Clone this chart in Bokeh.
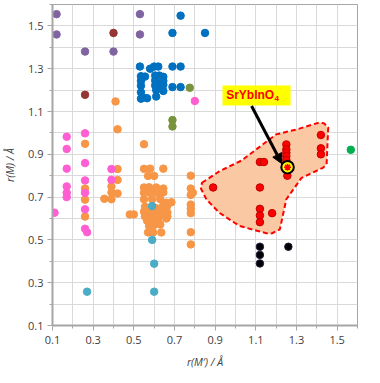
from bokeh.plotting import figure
from bokeh.models import FixedTicker, Arrow, NormalHead
from bokeh.core.properties import value
from bokeh.embed import file_html
from bokeh.resources import INLINE

# ---- data ----
purple_x = [0.12, 0.12, 0.26, 0.40, 0.53, 0.53]
purple_y = [1.555, 1.46, 1.38, 1.38, 1.555, 1.46]

darkred_x = [0.40, 0.26]
darkred_y = [1.467, 1.178]

blue_x = [0.53, 0.58, 0.60, 0.62, 0.69, 0.73,
          0.535, 0.535, 0.535, 0.535, 0.535,
          0.555, 0.545, 0.565,
          0.605, 0.625, 0.645,
          0.605, 0.625, 0.645,
          0.605, 0.625, 0.645,
          0.61, 0.63, 0.645, 0.61,
          0.69, 0.73,
          0.73, 0.69, 0.85]
blue_y = [1.31, 1.30, 1.31, 1.31, 1.31, 1.31,
          1.265, 1.243, 1.22, 1.19, 1.16,
          1.263, 1.165, 1.162,
          1.268, 1.268, 1.262,
          1.245, 1.25, 1.243,
          1.222, 1.215, 1.225,
          1.20, 1.232, 1.196, 1.17,
          1.214, 1.214,
          1.548, 1.467, 1.467]

olive_x = [0.775, 0.69, 0.69]
olive_y = [1.211, 1.06, 1.03]

pink_x = [0.17, 0.17, 0.26, 0.26, 0.17, 0.26, 0.17, 0.17, 0.17,
          0.26, 0.26, 0.26, 0.27, 0.11, 0.39, 0.39, 0.80]
pink_y = [0.982, 0.925, 0.998, 0.859, 0.833, 0.778, 0.75, 0.72, 0.70,
          0.72, 0.643, 0.552, 0.536, 0.627, 0.831, 0.781, 1.149]

orange_x = [0.41, 0.42, 0.26, 0.55,
            0.42, 0.55, 0.58, 0.645,
            0.57, 0.60, 0.42, 0.78,
            0.26, 0.26, 0.26,
            0.39, 0.39, 0.39, 0.42, 0.355,
            0.48, 0.50,
            0.55, 0.575, 0.61, 0.645,
            0.55, 0.58, 0.615, 0.645,
            0.55, 0.59, 0.63,
            0.66, 0.685,
            0.555, 0.57, 0.605, 0.64, 0.665,
            0.55, 0.575, 0.60, 0.625, 0.65, 0.665,
            0.555, 0.585, 0.615, 0.64, 0.665,
            0.565, 0.595, 0.62, 0.66,
            0.575, 0.60, 0.63,
            0.57, 0.595, 0.635,
            0.78, 0.79, 0.78, 0.78, 0.78, 0.78, 0.78, 0.78]
orange_y = [1.147, 1.017, 0.949, 0.947,
            0.831, 0.832, 0.833, 0.833,
            0.799, 0.799, 0.78, 0.80,
            0.74, 0.688, 0.609,
            0.75, 0.722, 0.69, 0.717, 0.692,
            0.619, 0.619,
            0.745, 0.746, 0.745, 0.74,
            0.72, 0.72, 0.72, 0.722,
            0.69, 0.69, 0.69,
            0.674, 0.676,
            0.655, 0.645, 0.65, 0.655, 0.66,
            0.632, 0.625, 0.63, 0.635, 0.64, 0.628,
            0.61, 0.605, 0.61, 0.615, 0.61,
            0.59, 0.585, 0.59, 0.60,
            0.565, 0.57, 0.572,
            0.535, 0.535, 0.535,
            0.74, 0.72, 0.71, 0.665, 0.645, 0.625, 0.536, 0.479]

cyan_x = [0.27, 0.59, 0.59, 0.60, 0.60]
cyan_y = [0.258, 0.658, 0.50, 0.389, 0.258]

red_x = [0.89, 1.12, 1.14, 1.12, 1.12, 1.12, 1.12, 1.18,
         1.25, 1.25, 1.25, 1.25, 1.25, 1.255, 1.42, 1.42, 1.42]
red_y = [0.745, 0.864, 0.864, 0.745, 0.645, 0.614, 0.583, 0.625,
         0.946, 0.923, 0.907, 0.892, 0.873, 0.80, 0.99, 0.928, 0.90]

black_x = [1.12, 1.12, 1.12, 1.26]
black_y = [0.468, 0.43, 0.39, 0.468]

teal_x = [1.567]
teal_y = [0.921]

star_x = [1.256]
star_y = [0.84]

region_x = [0.835, 0.92, 1.03, 1.20, 1.30, 1.41, 1.435, 1.456, 1.452, 1.448,
            1.43, 1.325, 1.25, 1.218, 1.18, 1.16, 1.11, 1.02, 0.92, 0.857, 0.83]
region_y = [0.767, 0.82, 0.871, 0.993, 1.016, 1.048, 1.045, 1.025, 0.94, 0.853,
            0.837, 0.79, 0.69, 0.549, 0.531, 0.529, 0.542, 0.565, 0.627, 0.689, 0.74]

x_ticks = [0.1, 0.3, 0.5, 0.7, 0.9, 1.1, 1.3, 1.5]
x_minor = [0.2, 0.4, 0.6, 0.8, 1.0, 1.2, 1.4, 1.6]
y_ticks = [0.1, 0.3, 0.5, 0.7, 0.9, 1.1, 1.3, 1.5]
y_minor = [0.2, 0.4, 0.6, 0.8, 1.0, 1.2, 1.4, 1.6]
grid_ticks = [0.1, 0.2, 0.3, 0.4, 0.5, 0.6, 0.7, 0.8, 0.9, 1.0,
              1.1, 1.2, 1.3, 1.4, 1.5, 1.6]

label_text = "SrYbInO"
label_sub = "4"
box_l, box_r, box_b, box_t = 0.936, 1.271, 1.128, 1.222
arrow_start = (1.079, 1.126)
arrow_end = (1.228, 0.856)

FONT = "Open Sans"
AX = "#a6a6a6"

p = figure(frame_width=305, frame_height=321, x_range=(0.1, 1.6), y_range=(0.1, 1.6),
           output_backend="svg", toolbar_location=None,
           min_border_left=48, min_border_right=8, min_border_top=4,
           min_border_bottom=34)
p.background_fill_color = "white"
p.outline_line_color = AX
p.outline_line_width = 1

for ax, t, m in ((p.xaxis[0], x_ticks, x_minor), (p.yaxis[0], y_ticks, y_minor)):
    ax.ticker = FixedTicker(ticks=t, minor_ticks=m)
    ax.axis_line_color = AX
    ax.axis_line_width = 2
    ax.major_tick_line_color = AX
    ax.minor_tick_line_color = AX
    ax.major_tick_in = 0
    ax.major_tick_out = 5
    ax.minor_tick_in = 0
    ax.minor_tick_out = 3
    ax.major_label_text_font = FONT
    ax.major_label_text_font_size = "11px"
    ax.major_label_text_color = "#404040"
    ax.axis_label_text_font = FONT
    ax.axis_label_text_font_size = "10.5px"
    ax.axis_label_text_font_style = "italic"
    ax.axis_label_text_color = "#404040"

p.xaxis.axis_label = "r(M′) / Å"
p.yaxis.axis_label = "r(M) / Å"
p.xaxis.major_label_standoff = 5
p.yaxis.major_label_standoff = 4
p.xaxis.axis_label_standoff = 8
p.yaxis.axis_label_standoff = 8

p.xgrid.ticker = FixedTicker(ticks=grid_ticks)
p.ygrid.ticker = FixedTicker(ticks=grid_ticks)
p.grid.grid_line_color = "#d9d9d9"
p.grid.grid_line_width = 1

# highlighted region
p.patch(region_x, region_y, fill_color="#fac8a2", fill_alpha=1.0,
        line_color="#ff0000", line_width=2, line_dash="5 3")

S = 7.5
p.scatter(purple_x, purple_y, size=S, color="#8064a2")
p.scatter(darkred_x, darkred_y, size=S, color="#943634")
p.scatter(blue_x, blue_y, size=S, color="#0070c0")
p.scatter(olive_x, olive_y, size=S, color="#77933c")
p.scatter(orange_x, orange_y, size=S, color="#f79646")
p.scatter(pink_x, pink_y, size=S, color="#ff5fd2")
p.scatter(cyan_x, cyan_y, size=S, color="#4bacc6")
p.scatter(red_x, red_y, size=S, fill_color="#ff0000", line_color="#c00000")
p.scatter(black_x, black_y, size=S, fill_color="#000000", line_color="#202040")
p.scatter(teal_x, teal_y, size=S, color="#00b050")

p.scatter(star_x, star_y, size=12.5, marker="circle", fill_color="#ffff00",
          line_color="#000000", line_width=2)
p.scatter(star_x, star_y, size=7, marker="asterisk", line_color="#ff0000",
          line_width=1.5)

# label
p.quad(left=[box_l], right=[box_r], bottom=[box_b], top=[box_t],
       fill_color="#ffff00", line_color=None)
p.text(x=[1.19], y=[1.176], text=[label_text], text_align="right",
       text_baseline="middle", text_color="#ff0000", text_font_style="bold",
       text_font_size="12px", text_font=value("Liberation Sans"))
p.text(x=[1.192], y=[1.162], text=[label_sub], text_align="left",
       text_baseline="middle", text_color="#ff0000", text_font_style="bold",
       text_font_size="8px", text_font=value("Liberation Sans"))

p.add_layout(Arrow(end=NormalHead(size=10, fill_color="black", line_color="black"),
                   x_start=arrow_start[0], y_start=arrow_start[1],
                   x_end=arrow_end[0], y_end=arrow_end[1],
                   line_width=3, line_color="black"))

open("out.html", "w").write(file_html(p, INLINE))
